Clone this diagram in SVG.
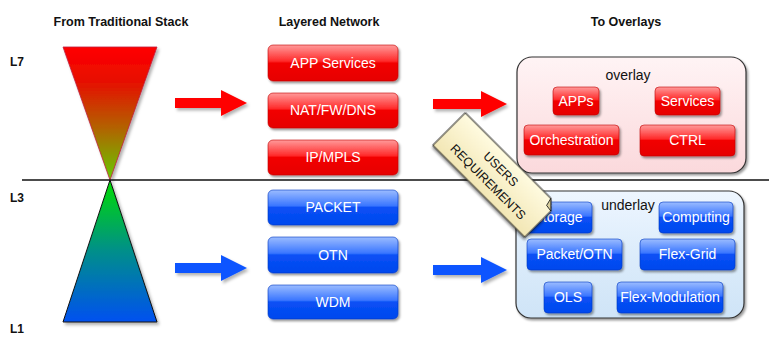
<svg xmlns="http://www.w3.org/2000/svg" width="769" height="337" viewBox="0 0 769 337">
<defs>
<linearGradient id="triTop" x1="0" y1="0" x2="0" y2="1">
<stop offset="0" stop-color="#ff0000"/><stop offset="0.25" stop-color="#e80c00"/><stop offset="0.6" stop-color="#b46000"/><stop offset="1" stop-color="#66cc00"/>
</linearGradient>
<linearGradient id="triBot" x1="0" y1="0" x2="0" y2="1">
<stop offset="0" stop-color="#00dd00"/><stop offset="0.5" stop-color="#008f8a"/><stop offset="1" stop-color="#0050f0"/>
</linearGradient>
<linearGradient id="btnRed" x1="0" y1="0" x2="0" y2="1">
<stop offset="0" stop-color="#ff9a9a"/><stop offset="0.45" stop-color="#ff2a2a"/><stop offset="0.5" stop-color="#f20000"/><stop offset="1" stop-color="#e60000"/>
</linearGradient>
<linearGradient id="btnBlue" x1="0" y1="0" x2="0" y2="1">
<stop offset="0" stop-color="#9bbcff"/><stop offset="0.45" stop-color="#3a76ff"/><stop offset="0.5" stop-color="#0a50f5"/><stop offset="1" stop-color="#0048ee"/>
</linearGradient>
<linearGradient id="boxPink" x1="0" y1="0" x2="0" y2="1">
<stop offset="0" stop-color="#fff4f5"/><stop offset="0.5" stop-color="#fde6e8"/><stop offset="1" stop-color="#fbd9dc"/>
</linearGradient>
<linearGradient id="boxBlue" x1="0" y1="0" x2="0" y2="1">
<stop offset="0" stop-color="#eef6ff"/><stop offset="0.5" stop-color="#dcecfb"/><stop offset="1" stop-color="#cfe4f7"/>
</linearGradient>
<linearGradient id="note" x1="0" y1="0" x2="0" y2="1">
<stop offset="0" stop-color="#fffbe0"/><stop offset="1" stop-color="#f2e6b4"/>
</linearGradient>
<filter id="sh" x="-20%" y="-20%" width="140%" height="150%">
<feDropShadow dx="1.5" dy="2" stdDeviation="1.3" flood-color="#000" flood-opacity="0.4"/>
</filter>
<filter id="shA" x="-20%" y="-20%" width="140%" height="150%">
<feDropShadow dx="2" dy="2.5" stdDeviation="1.5" flood-color="#000" flood-opacity="0.3"/>
</filter>
</defs>
<style>
.title{font-family:"Liberation Sans",Arial,sans-serif;font-weight:bold;font-size:12.5px;fill:#111;text-anchor:middle}
.lvl{font-family:"Liberation Sans",Arial,sans-serif;font-weight:bold;font-size:12px;fill:#111}
.red rect{fill:url(#btnRed);stroke:#c00000;stroke-width:0.6;filter:url(#sh)}
.blue rect{fill:url(#btnBlue);stroke:#0038c0;stroke-width:0.6;filter:url(#sh)}
.bt{font-family:"Liberation Sans",Arial,sans-serif;font-size:14px;fill:#fff;text-anchor:middle}
.lbl{font-family:"Liberation Sans",Arial,sans-serif;font-size:14px;fill:#111;text-anchor:middle}
.arR{fill:#ff0000;filter:url(#shA)}
.arB{fill:#1055ff;filter:url(#shA)}
.nt{font-family:"Liberation Sans",Arial,sans-serif;font-size:12.5px;fill:#111;text-anchor:middle}
</style>
<rect width="769" height="337" fill="#fff"/>

<text class="title" x="121" y="26">From Traditional Stack</text>
<text class="title" x="329" y="26">Layered Network</text>
<text class="title" x="626" y="26">To Overlays</text>
<text class="lvl" x="10" y="66">L7</text>
<text class="lvl" x="10" y="202">L3</text>
<text class="lvl" x="10" y="333">L1</text>

<g id="stack-top"><polygon points="63,47 157,47 110,180" fill="url(#triTop)" stroke="#c02040" stroke-width="0.8" filter="url(#shA)"/></g>
<g id="stack-bottom"><polygon points="110,180 63,322 157,322" fill="url(#triBot)" stroke="#111" stroke-width="1" filter="url(#shA)"/></g>

<line x1="22" y1="180" x2="769" y2="180" stroke="#111" stroke-width="1.3"/>

<g id="connectors">
<polygon class="arR" points="175,98 221,98 221,90 247,103 221,116 221,108 175,108"/>
<polygon class="arR" points="433,99 481,99 481,91 507,104 481,117 481,109 433,109"/>
<polygon class="arB" points="175,263 221,263 221,255 247,268 221,281 221,273 175,273"/>
<polygon class="arB" points="433,265 481,265 481,257 507,270 481,283 481,275 433,275"/>
</g>

<g id="app-services" class="red"><rect x="268" y="45" width="130" height="36" rx="5"/><text class="bt" x="333" y="68">APP Services</text></g>
<g id="nat-fw-dns" class="red"><rect x="268" y="93" width="130" height="35" rx="5"/><text class="bt" x="333" y="115">NAT/FW/DNS</text></g>
<g id="ip-mpls" class="red"><rect x="268" y="140" width="130" height="35" rx="5"/><text class="bt" x="333" y="162">IP/MPLS</text></g>
<g id="packet" class="blue"><rect x="268" y="190" width="130" height="35" rx="5"/><text class="bt" x="333" y="212">PACKET</text></g>
<g id="otn" class="blue"><rect x="268" y="237" width="130" height="36" rx="5"/><text class="bt" x="333" y="260">OTN</text></g>
<g id="wdm" class="blue"><rect x="268" y="285" width="130" height="34" rx="5"/><text class="bt" x="333" y="307">WDM</text></g>

<g id="overlay">
<rect x="517" y="57" width="229" height="116" rx="15" fill="url(#boxPink)" stroke="#333" stroke-width="1.2" filter="url(#sh)"/>
<text class="lbl" x="628" y="80">overlay</text>
</g>
<g id="apps" class="red"><rect x="553" y="87" width="46" height="28" rx="4"/><text class="bt" x="576" y="106">APPs</text></g>
<g id="services" class="red"><rect x="655" y="87" width="65" height="28" rx="4"/><text class="bt" x="687.5" y="106">Services</text></g>
<g id="orchestration" class="red"><rect x="524" y="125" width="95" height="30" rx="4"/><text class="bt" x="571.5" y="145">Orchestration</text></g>
<g id="ctrl" class="red"><rect x="640" y="125" width="95" height="31" rx="4"/><text class="bt" x="687.5" y="145">CTRL</text></g>

<g id="underlay">
<rect x="516" y="191" width="228" height="127" rx="15" fill="url(#boxBlue)" stroke="#333" stroke-width="1.2" filter="url(#sh)"/>
<text class="lbl" x="628" y="210">underlay</text>
</g>
<g id="storage" class="blue"><rect x="525" y="202" width="67" height="31" rx="4"/><text class="bt" x="558" y="222">Storage</text></g>
<g id="computing" class="blue"><rect x="659" y="202" width="74" height="31" rx="4"/><text class="bt" x="696" y="222">Computing</text></g>
<g id="packet-otn" class="blue"><rect x="527" y="239" width="95" height="31" rx="4"/><text class="bt" x="574.5" y="259">Packet/OTN</text></g>
<g id="flex-grid" class="blue"><rect x="640" y="239" width="95" height="31" rx="4"/><text class="bt" x="687.5" y="259">Flex-Grid</text></g>
<g id="ols" class="blue"><rect x="544" y="282" width="48" height="31" rx="4"/><text class="bt" x="568" y="302">OLS</text></g>
<g id="flex-modulation" class="blue"><rect x="617" y="282" width="106" height="31" rx="4"/><text class="bt" x="670" y="302">Flex-Modulation</text></g>

<g id="users-requirements" transform="translate(495,175) rotate(45)">
<path d="M-65,-23 L56,-23 L65,-14 L65,23 L-65,23 Z" fill="url(#note)" stroke="#111" stroke-width="1" filter="url(#sh)"/>
<path d="M56,-23 L58,-15 L65,-14 Z" fill="#d9cf9e" stroke="#111" stroke-width="0.8"/>
<text class="nt" x="0" y="-4">USERS</text>
<text class="nt" x="0" y="14">REQUIREMENTS</text>
</g>
</svg>
